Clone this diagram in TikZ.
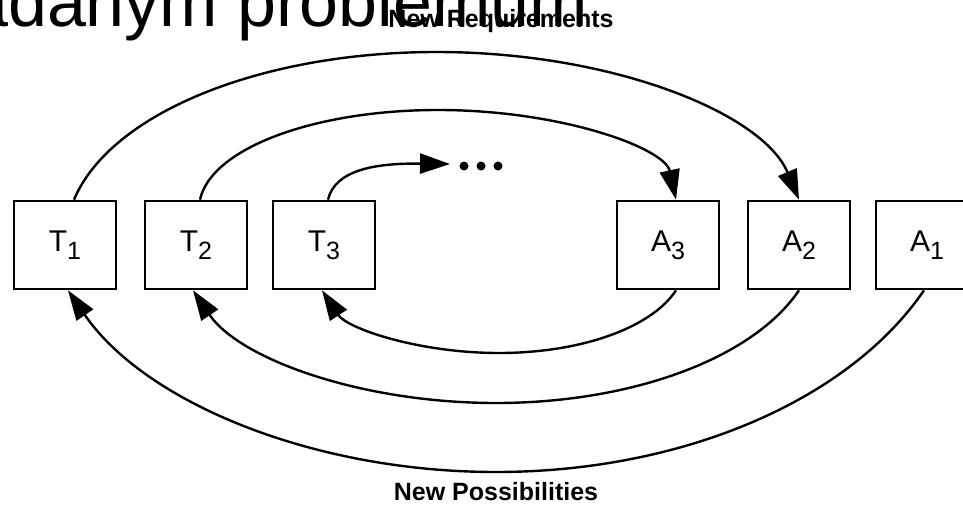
\documentclass[tikz,border=0pt]{standalone}
\usepackage{fontspec}
\setmainfont{Liberation Sans}
\usetikzlibrary{arrows.meta,calc}
\newcommand\bxsub[1]{\raisebox{-8pt}{\fontsize{25}{25}\selectfont #1}}
\begin{document}
\begin{tikzpicture}[x=1pt,y=-1pt,
  box/.style={draw,line width=2.6pt,minimum width=102pt,minimum height=88pt,inner sep=0pt,
              font=\fontsize{30}{32}\selectfont},
  conn/.style={line width=2.4pt,-{Triangle[length=30pt,width=20pt]}},
  lbl/.style={font=\bfseries\fontsize{25}{27}\selectfont,inner sep=0pt,anchor=base}]
\useasboundingbox (0,0) rectangle (963,516);
\clip (0,0) rectangle (963,516);

% heading remnant
\node[anchor=base west,inner sep=0pt,font=\fontsize{70}{72}\selectfont] (head) at (-31,27) {adanym problemum};
\node[lbl] (req) at (501,28) {New Requirements};
\node[lbl] (poss) at (496,500) {New Possibilities};

% boxes
\node[box] (T1) at (65,245) {T\bxsub{1}};
\node[box] (T2) at (196,245) {T\bxsub{2}};
\node[box] (T3) at (324,245) {T\bxsub{3}};
\node[box] (A3) at (668,245) {A\bxsub{3}};
\node[box] (A2) at (799,245) {A\bxsub{2}};
\node[box] (A1) at (927,245) {A\bxsub{1}};

% peak / trough coordinates
\coordinate (pk1) at (436.5,52);
\coordinate (pk2) at (438,110);
\coordinate (more) at (450,164);
\coordinate (lo3) at (499,353);
\coordinate (lo2) at (496,403);
\coordinate (lo1) at (496,472);

% top arcs (new requirements)
\draw[conn] ([xshift=9pt]T1.north) .. controls +(36.4,-86.8) and (261.5,52) .. (pk1)
            .. controls (611.5,52) and +(-36.4,-86.8) .. (A2.north);
\draw[conn] ([xshift=4pt]T2.north) .. controls +(11.2,-51.5) and (314.4,110) .. (pk2)
            .. controls (561.6,110) and +(-11.2,-51.5) .. ([xshift=8pt]A3.north);
\draw[conn] ([xshift=4pt]T3.north) .. controls (335,170) and (375,163) .. (more);
\fill (464,166) circle[radius=4.5pt] (481,166) circle[radius=4.5pt] (498,166) circle[radius=4.5pt];

% bottom arcs (new possibilities)
\draw[conn] ([xshift=8pt]A3.south) .. controls +(-25.1,38.2) and (579.5,353) .. (lo3)
            .. controls (418.5,353) and +(25.1,38.2) .. ([xshift=-2pt]T3.south);
\draw[conn] (A2.south) .. controls +(-46.2,68.4) and (631.6,403) .. (lo2)
            .. controls (360.4,403) and +(46.2,68.4) .. ([xshift=-3pt]T2.south);
\draw[conn] ([xshift=-3pt]A1.south) .. controls +(-76.2,111.4) and (680.3,472) .. (lo1)
            .. controls (311.7,472) and +(76.2,111.4) .. ([xshift=3pt]T1.south);
\end{tikzpicture}
\end{document}
